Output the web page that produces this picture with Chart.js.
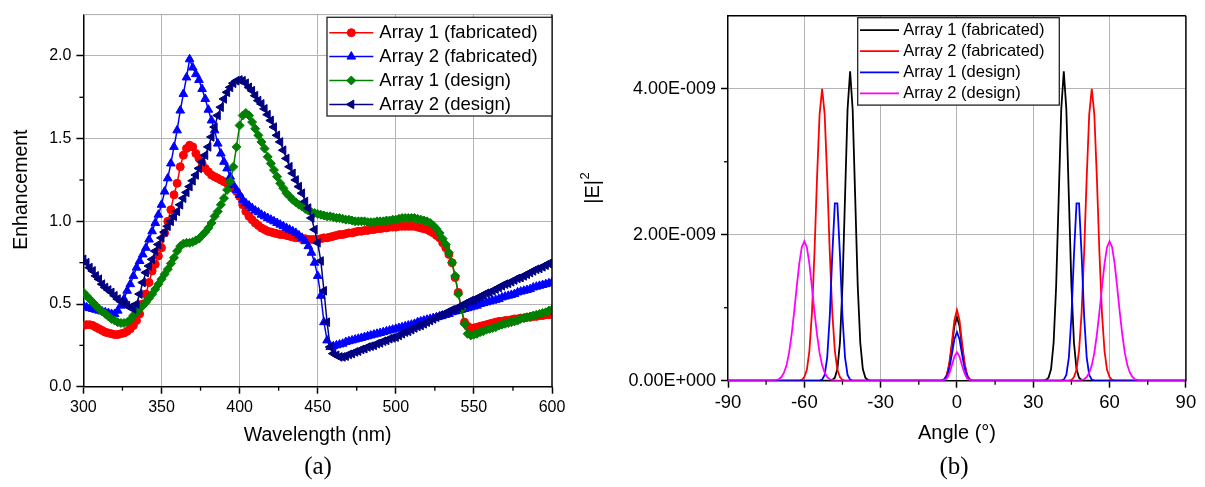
<!DOCTYPE html>
<html><head><meta charset="utf-8">
<script src="https://cdn.jsdelivr.net/npm/chart.js@4.4.1/dist/chart.umd.min.js"></script>
<style>
html,body{margin:0;padding:0;background:#fff;}
body{width:1205px;height:487px;position:relative;overflow:hidden;}
#left{position:absolute;left:0;top:0;}
#right{position:absolute;left:575px;top:0;}
.cap{position:absolute;font-family:'Liberation Serif','Times New Roman',serif;font-size:25px;line-height:25px;transform:translate(-50%,-50%);color:#000;white-space:nowrap;}
</style></head>
<body>
<canvas id="left" width="575" height="460"></canvas>
<canvas id="right" width="630" height="460"></canvas>
<div class="cap" style="left:318px;top:465px">(a)</div>
<div class="cap" style="left:954px;top:465px">(b)</div>
<script>
// ---------- (a) Enhancement vs wavelength ----------
const seriesNames = ['Array 1 (fabricated)', 'Array 2 (fabricated)', 'Array 1 (design)', 'Array 2 (design)'];

const wavelength = [
 300,302,304,306,308,310,312,314,316,318,
 320,322,324,326,328,330,332,334,336,338,
 340,342,344,346,348,350,352,354,356,358,
 360,362,364,366,368,370,372,374,376,378,
 380,382,384,386,388,390,392,394,396,398,
 400,402,404,406,408,410,412,414,416,418,
 420,422,424,426,428,430,432,434,436,438,
 440,442,444,446,448,450,452,454,456,458,
 460,462,464,466,468,470,472,474,476,478,
 480,482,484,486,488,490,492,494,496,498,
 500,502,504,506,508,510,512,514,516,518,
 520,522,524,526,528,530,532,534,536,538,
 540,542,544,546,548,550,552,554,556,558,
 560,562,564,566,568,570,572,574,576,578,
 580,582,584,586,588,590,592,594,596,598,
 600];

const enhArray1Fab = [
 0.37,0.375,0.375,0.37,0.36,0.35,0.34,0.33,0.325,0.32,
 0.315,0.315,0.32,0.325,0.335,0.35,0.37,0.40,0.44,0.50,
 0.56,0.63,0.70,0.74,0.79,0.84,0.93,1.00,1.07,1.16,
 1.23,1.33,1.40,1.44,1.46,1.45,1.41,1.38,1.35,1.32,
 1.30,1.28,1.27,1.26,1.25,1.24,1.23,1.22,1.20,1.18,
 1.15,1.10,1.06,1.03,1.01,0.99,0.975,0.96,0.95,0.94,
 0.935,0.93,0.925,0.92,0.92,0.915,0.91,0.905,0.90,0.90,
 0.895,0.895,0.89,0.89,0.89,0.89,0.895,0.90,0.90,0.905,
 0.91,0.915,0.92,0.92,0.925,0.93,0.93,0.935,0.94,0.94,
 0.945,0.945,0.95,0.95,0.955,0.955,0.96,0.96,0.965,0.965,
 0.965,0.97,0.97,0.97,0.97,0.97,0.97,0.965,0.96,0.955,
 0.95,0.94,0.93,0.915,0.90,0.87,0.84,0.80,0.75,0.66,
 0.57,0.47,0.39,0.365,0.355,0.355,0.36,0.365,0.37,0.375,
 0.38,0.385,0.39,0.395,0.395,0.40,0.40,0.405,0.41,0.41,
 0.415,0.415,0.42,0.42,0.425,0.425,0.43,0.43,0.435,0.435,
 0.44];

const enhArray2Fab = [
 0.49,0.48,0.475,0.47,0.465,0.46,0.455,0.45,0.445,0.44,
 0.44,0.46,0.49,0.53,0.58,0.62,0.67,0.72,0.76,0.80,
 0.84,0.89,0.94,0.99,1.04,1.10,1.18,1.26,1.35,1.45,
 1.55,1.67,1.77,1.87,1.98,1.93,1.89,1.855,1.80,1.74,
 1.675,1.61,1.55,1.47,1.41,1.36,1.32,1.27,1.22,1.19,
 1.16,1.13,1.11,1.095,1.08,1.065,1.055,1.04,1.03,1.02,
 1.01,1.0,0.99,0.98,0.97,0.96,0.95,0.94,0.93,0.915,
 0.90,0.88,0.85,0.81,0.75,0.67,0.55,0.39,0.28,0.24,
 0.245,0.25,0.255,0.26,0.27,0.275,0.28,0.285,0.29,0.295,
 0.30,0.305,0.31,0.315,0.32,0.325,0.33,0.335,0.34,0.345,
 0.35,0.355,0.36,0.365,0.37,0.375,0.38,0.39,0.395,0.40,
 0.405,0.41,0.415,0.42,0.425,0.43,0.435,0.44,0.45,0.455,
 0.46,0.465,0.47,0.475,0.48,0.485,0.49,0.50,0.505,0.51,
 0.515,0.52,0.525,0.53,0.54,0.545,0.55,0.555,0.56,0.57,
 0.575,0.58,0.585,0.59,0.60,0.605,0.61,0.615,0.62,0.625,
 0.63];

const enhArray1Design = [
 0.57,0.55,0.53,0.51,0.49,0.47,0.455,0.44,0.425,0.41,
 0.40,0.39,0.385,0.385,0.39,0.405,0.43,0.45,0.47,0.49,
 0.51,0.535,0.56,0.59,0.62,0.65,0.68,0.71,0.745,0.78,
 0.82,0.85,0.865,0.87,0.87,0.875,0.885,0.895,0.915,0.935,
 0.96,0.99,1.03,1.06,1.10,1.14,1.19,1.24,1.33,1.45,
 1.58,1.64,1.655,1.64,1.60,1.56,1.52,1.48,1.44,1.39,
 1.35,1.31,1.27,1.23,1.20,1.17,1.15,1.13,1.115,1.10,
 1.09,1.075,1.065,1.055,1.05,1.045,1.04,1.035,1.03,1.03,
 1.025,1.02,1.02,1.015,1.01,1.01,1.005,1.0,1.0,1.0,
 1.0,0.995,0.995,0.995,1.0,1.0,1.0,1.005,1.005,1.01,
 1.01,1.015,1.02,1.02,1.02,1.02,1.02,1.015,1.01,1.005,
 1.0,0.99,0.975,0.955,0.93,0.895,0.86,0.81,0.75,0.67,
 0.56,0.47,0.38,0.32,0.31,0.315,0.32,0.33,0.335,0.345,
 0.35,0.355,0.36,0.37,0.375,0.38,0.385,0.39,0.395,0.40,
 0.41,0.415,0.42,0.425,0.43,0.435,0.44,0.445,0.45,0.46,
 0.465];

const enhArray2Design = [
 0.77,0.75,0.72,0.70,0.67,0.65,0.62,0.60,0.585,0.57,
 0.55,0.53,0.515,0.505,0.49,0.48,0.47,0.50,0.56,0.63,
 0.69,0.73,0.77,0.82,0.86,0.90,0.935,0.97,1.0,1.03,
 1.06,1.10,1.14,1.175,1.21,1.245,1.28,1.32,1.36,1.40,
 1.45,1.51,1.57,1.64,1.69,1.74,1.78,1.81,1.835,1.85,
 1.855,1.85,1.835,1.81,1.79,1.76,1.73,1.71,1.68,1.645,
 1.61,1.57,1.52,1.48,1.43,1.38,1.33,1.29,1.25,1.21,
 1.17,1.12,1.08,1.02,0.95,0.87,0.76,0.58,0.39,0.24,
 0.20,0.19,0.18,0.18,0.185,0.195,0.20,0.21,0.215,0.225,
 0.23,0.24,0.245,0.25,0.26,0.265,0.275,0.28,0.29,0.295,
 0.30,0.31,0.32,0.33,0.335,0.345,0.355,0.365,0.37,0.38,
 0.39,0.40,0.41,0.42,0.43,0.435,0.445,0.455,0.465,0.47,
 0.48,0.49,0.50,0.51,0.52,0.525,0.535,0.545,0.555,0.565,
 0.57,0.58,0.59,0.60,0.61,0.62,0.625,0.635,0.645,0.655,
 0.66,0.67,0.68,0.69,0.70,0.71,0.715,0.725,0.735,0.745,
 0.75];

const wlTicks = [300, 350, 400, 450, 500, 550, 600];
const wlMinorTicks = [325, 375, 425, 475, 525, 575];
const enhTicks = [0, 0.5, 1.0, 1.5, 2.0];
const enhMinorTicks = [0.25, 0.75, 1.25, 1.75];

// ---------- (b) |E|^2 vs angle (values in units of 1E-009) ----------
const blackAngle = [-90,
 -50,-49,-48,-47,-46,-45,-44,-43,-42,-41,-40,-39,-38,-37,-36,-35,-34,
 -6,-5,-4,-3,-2,-1,0,1,2,3,4,5,6,
 34,35,36,37,38,39,40,41,42,43,44,45,46,47,48,49,50,
 90];
const blackE = [0,
 0,0.01,0.04,0.16,0.52,1.30,2.51,3.72,4.24,3.72,2.51,1.30,0.52,0.16,0.04,0.01,0,
 0,0.02,0.07,0.22,0.47,0.75,0.87,0.75,0.47,0.22,0.07,0.02,0,
 0,0.01,0.04,0.16,0.52,1.30,2.51,3.72,4.24,3.72,2.51,1.30,0.52,0.16,0.04,0.01,0,
 0];

const redAngle = [-90,
 -62,-61,-60,-59,-58,-57,-56,-55,-54,-53,-52,-51,-50,-49,-48,-47,-46,-45,-44,
 -6,-5,-4,-3,-2,-1,0,1,2,3,4,5,6,
 44,45,46,47,48,49,50,51,52,53,54,55,56,57,58,59,60,61,62,
 90];
const redE = [0,
 0,0.01,0.05,0.15,0.41,0.93,1.76,2.78,3.65,4.0,3.65,2.78,1.76,0.93,0.41,0.15,0.05,0.01,0,
 0,0.02,0.08,0.24,0.52,0.83,0.97,0.83,0.52,0.24,0.08,0.02,0,
 0,0.01,0.05,0.15,0.41,0.93,1.76,2.78,3.65,4.0,3.65,2.78,1.76,0.93,0.41,0.15,0.05,0.01,0,
 0];

const blueAngle = [-90,
 -54,-53,-52,-51,-50,-49,-48,-47,-46,-45,-44,-43,-42,-41,
 -6,-5,-4,-3,-2,-1,0,1,2,3,4,5,6,
 41,42,43,44,45,46,47,48,49,50,51,52,53,54,
 90];
const blueE = [0,
 0,0.015,0.08,0.32,0.88,1.73,2.43,2.43,1.73,0.88,0.32,0.08,0.015,0,
 0,0.01,0.06,0.17,0.36,0.57,0.665,0.57,0.36,0.17,0.06,0.01,0,
 0,0.015,0.08,0.32,0.88,1.73,2.43,2.43,1.73,0.88,0.32,0.08,0.015,0,
 0];

const magentaAngle = [-90,
 -73,-72,-71,-70,-69,-68,-67,-66,-65,-64,-63,-62,-61,-60,-59,-58,-57,-56,-55,-54,-53,-52,-51,-50,-49,-48,-47,
 -6,-5,-4,-3,-2,-1,0,1,2,3,4,5,6,
 47,48,49,50,51,52,53,54,55,56,57,58,59,60,61,62,63,64,65,66,67,68,69,70,71,72,73,
 90];
const magentaE = [0,
 0,0.005,0.01,0.02,0.05,0.11,0.21,0.38,0.63,0.94,1.28,1.60,1.83,1.91,1.83,1.60,1.28,0.94,0.63,0.38,0.21,0.11,0.05,0.02,0.01,0.005,0,
 0,0.01,0.03,0.10,0.21,0.33,0.39,0.33,0.21,0.10,0.03,0.01,0,
 0,0.005,0.01,0.02,0.05,0.11,0.21,0.38,0.63,0.94,1.28,1.60,1.83,1.91,1.83,1.60,1.28,0.94,0.63,0.38,0.21,0.11,0.05,0.02,0.01,0.005,0,
 0];

const angleTicks = [-90, -60, -30, 0, 30, 60, 90];
const angleMinorTicks = [-75, -45, -15, 15, 45, 75];
const intensityTicks = [0, 2, 4];
const intensityTickLabels = ['0.00E+000', '2.00E-009', '4.00E-009'];
const intensityMinorTicks = [1, 3];

// ---------- helpers ----------
const SANS = "'Liberation Sans', Arial, sans-serif";
const GRID = '#b4b4b4';
const NONE = 'rgba(0,0,0,0)';
function pts(xs, ys) { return xs.map((x, i) => ({x: x, y: ys[i]})); }
function fixedTicks(list) { return function (scale) { scale.ticks = list.map(v => ({value: v})); }; }

function markerPath(ctx, style, r, rot, x, y) {
  ctx.save();
  ctx.translate(x, y);
  ctx.rotate(rot * Math.PI / 180);
  ctx.beginPath();
  if (style === 'circle') {
    ctx.arc(0, 0, r, 0, Math.PI * 2);
  } else if (style === 'triangle') {
    ctx.moveTo(0, -r);
    ctx.lineTo(r * Math.sin(2 * Math.PI / 3), -r * Math.cos(2 * Math.PI / 3));
    ctx.lineTo(r * Math.sin(4 * Math.PI / 3), -r * Math.cos(4 * Math.PI / 3));
    ctx.closePath();
  } else if (style === 'rectRot') {
    ctx.moveTo(0, -r); ctx.lineTo(r, 0); ctx.lineTo(0, r); ctx.lineTo(-r, 0); ctx.closePath();
  }
  ctx.fill();
  ctx.stroke();
  ctx.restore();
}

const framePlugin = {
  id: 'frame',
  afterDatasetsDraw(chart, args, o) {
    const {ctx, chartArea: a} = chart;
    ctx.save();
    ctx.lineWidth = o.topWidth;
    ctx.strokeStyle = o.topColor;
    ctx.beginPath(); ctx.moveTo(a.left, a.top); ctx.lineTo(a.right, a.top); ctx.stroke();
    ctx.lineWidth = 1.5;
    ctx.strokeStyle = '#000';
    ctx.beginPath(); ctx.moveTo(a.right, a.top); ctx.lineTo(a.right, a.bottom + 0.75); ctx.stroke();
    ctx.restore();
  }
};

const minorPlugin = {
  id: 'minor',
  afterDraw(chart, args, o) {
    const {ctx, chartArea: a, scales} = chart;
    ctx.save();
    ctx.strokeStyle = '#000';
    ctx.lineWidth = 1.3;
    o.x.forEach(v => {
      const px = scales.x.getPixelForValue(v);
      ctx.beginPath(); ctx.moveTo(px, a.bottom); ctx.lineTo(px, a.bottom + o.len); ctx.stroke();
    });
    o.y.forEach(v => {
      const py = scales.y.getPixelForValue(v);
      ctx.beginPath(); ctx.moveTo(a.left, py); ctx.lineTo(a.left - o.len, py); ctx.stroke();
    });
    ctx.restore();
  }
};

const yTitlePlugin = {
  id: 'yTitle',
  afterDraw(chart, args, o) {
    const {ctx, chartArea: a} = chart;
    const cy = (a.top + a.bottom) / 2 + o.shift;
    ctx.save();
    ctx.translate(o.x, cy);
    ctx.rotate(-Math.PI / 2);
    ctx.fillStyle = '#000';
    ctx.textBaseline = 'middle';
    ctx.textAlign = 'left';
    ctx.font = o.size + 'px ' + SANS;
    const w1 = ctx.measureText(o.text).width;
    let w2 = 0;
    if (o.sup) { ctx.font = o.supSize + 'px ' + SANS; w2 = ctx.measureText(o.sup).width; }
    const start = -(w1 + w2) / 2;
    ctx.font = o.size + 'px ' + SANS;
    ctx.fillText(o.text, start, 0);
    if (o.sup) {
      ctx.font = o.supSize + 'px ' + SANS;
      ctx.fillText(o.sup, start + w1 + 0.5, -o.size * 0.36);
    }
    ctx.restore();
  }
};

const boxLegendPlugin = {
  id: 'boxLegend',
  afterDatasetsDraw(chart, args, o) {
    const {ctx, chartArea: a} = chart;
    const x0 = a.right - o.right - o.width;
    const y0 = a.top + o.top;
    ctx.save();
    ctx.fillStyle = '#fff';
    ctx.fillRect(x0, y0, o.width, o.height);
    ctx.strokeStyle = '#222';
    ctx.lineWidth = 1.3;
    ctx.strokeRect(x0, y0, o.width, o.height);
    ctx.font = o.size + 'px ' + SANS;
    ctx.textBaseline = 'middle';
    ctx.textAlign = 'left';
    chart.data.datasets.forEach((ds, i) => {
      const cy = y0 + o.firstRow + i * o.rowGap;
      ctx.strokeStyle = ds.borderColor;
      ctx.lineWidth = ds.borderWidth;
      ctx.beginPath(); ctx.moveTo(x0 + o.lineStart, cy); ctx.lineTo(x0 + o.lineEnd, cy); ctx.stroke();
      if (ds.pointRadius > 0) {
        ctx.fillStyle = ds.pointBackgroundColor;
        ctx.strokeStyle = ds.pointBorderColor;
        ctx.lineWidth = ds.pointBorderWidth;
        markerPath(ctx, ds.pointStyle, ds.pointRadius, ds.pointRotation || 0, x0 + (o.lineStart + o.lineEnd) / 2, cy);
      }
      ctx.fillStyle = '#000';
      ctx.fillText(ds.label, x0 + o.textX, cy + 0.5);
    });
    ctx.restore();
  }
};

function markerSeries(label, xs, ys, color, style, radius, rotation, order) {
  return {
    label: label, data: pts(xs, ys), order: order,
    borderColor: color, backgroundColor: color, borderWidth: 1.5, tension: 0,
    pointStyle: style, pointRadius: radius, pointRotation: rotation,
    pointBackgroundColor: color, pointBorderColor: color, pointBorderWidth: 1,
    pointHoverRadius: radius
  };
}
function lineSeries(label, xs, ys, color, order) {
  return {
    label: label, data: pts(xs, ys), order: order,
    borderColor: color, backgroundColor: color, borderWidth: 1.8, tension: 0,
    pointRadius: 0, pointHoverRadius: 0
  };
}

Chart.defaults.font.family = SANS;
Chart.defaults.color = '#000';

// ---------- chart (a) ----------
new Chart(document.getElementById('left'), {
  type: 'line',
  data: {datasets: [
    markerSeries(seriesNames[0], wavelength, enhArray1Fab, '#ff0000', 'circle', 4, 0, 3),
    markerSeries(seriesNames[1], wavelength, enhArray2Fab, '#0000ff', 'triangle', 5, 0, 2),
    markerSeries(seriesNames[2], wavelength, enhArray1Design, '#008000', 'rectRot', 4.5, 0, 1),
    markerSeries(seriesNames[3], wavelength, enhArray2Design, '#000080', 'triangle', 5, -90, 0)
  ]},
  options: {
    responsive: false, animation: false, devicePixelRatio: 1, events: [],
    layout: {autoPadding: false, padding: {left: 0, right: 23, top: 9.6, bottom: 0}},
    plugins: {
      legend: {display: false}, tooltip: {enabled: false},
      frame: {topColor: '#a8a8a8', topWidth: 1},
      minor: {x: wlMinorTicks, y: enhMinorTicks, len: 4},
      yTitle: {text: 'Enhancement', size: 19.5, x: 22, shift: -11},
      boxLegend: {right: 0, width: 225, top: 2.7, height: 98.7, firstRow: 15.4, rowGap: 23.9,
                  lineStart: 2.3, lineEnd: 46.3, textX: 52.3, size: 18.5}
    },
    scales: {
      x: {
        type: 'linear', min: 300, max: 600,
        afterBuildTicks: fixedTicks(wlTicks),
        afterFit: s => { s.height = 73.3; },
        ticks: {font: {size: 16}, color: '#000', padding: 4.2, maxRotation: 0, autoSkip: false},
        grid: {color: c => (c.tick && (c.tick.value === 300 || c.tick.value === 600)) ? NONE : GRID,
               lineWidth: 1, tickLength: 7, tickColor: '#000', tickWidth: 1.5},
        border: {color: '#000', width: 1.5},
        title: {display: true, text: 'Wavelength (nm)', font: {size: 19.5}, color: '#000', padding: {top: 0, bottom: 12.8}}
      },
      y: {
        type: 'linear', min: 0, max: 2.25,
        afterBuildTicks: fixedTicks(enhTicks),
        afterFit: s => { s.width = 83.4; },
        ticks: {font: {size: 16}, color: '#000', padding: 5, callback: v => Number(v).toFixed(1)},
        grid: {color: c => (c.tick && c.tick.value === 0) ? NONE : GRID,
               lineWidth: 1, tickLength: 7, tickColor: '#000', tickWidth: 1.5},
        border: {color: '#000', width: 1.5}
      }
    }
  },
  plugins: [framePlugin, boxLegendPlugin, minorPlugin, yTitlePlugin]
});

// ---------- chart (b) ----------
new Chart(document.getElementById('right'), {
  type: 'line',
  data: {datasets: [
    lineSeries(seriesNames[0], blackAngle, blackE, '#000000', 3),
    lineSeries(seriesNames[1], redAngle, redE, '#ff0000', 2),
    lineSeries(seriesNames[2], blueAngle, blueE, '#0000ff', 1),
    lineSeries(seriesNames[3], magentaAngle, magentaE, '#ff00ff', 0)
  ]},
  options: {
    responsive: false, animation: false, devicePixelRatio: 1, events: [],
    layout: {autoPadding: false, padding: {left: 0, right: 19.1, top: 12.4, bottom: 0}},
    plugins: {
      legend: {display: false}, tooltip: {enabled: false},
      frame: {topColor: '#000', topWidth: 1.5},
      minor: {x: angleMinorTicks, y: intensityMinorTicks, len: 4},
      yTitle: {text: '|E|', sup: '2', size: 20, supSize: 13, x: 18, shift: -10},
      boxLegend: {right: 126.6, width: 201.6, top: 1.9, height: 87.4, firstRow: 12.4, rowGap: 21.1,
                  lineStart: 2.3, lineEnd: 41.3, textX: 45.6, size: 16.5}
    },
    scales: {
      x: {
        type: 'linear', min: -90, max: 90,
        afterBuildTicks: fixedTicks(angleTicks),
        afterFit: s => { s.height = 79.3; },
        ticks: {font: {size: 18.5}, color: '#000', padding: 4, maxRotation: 0, autoSkip: false},
        grid: {color: c => (c.tick && (c.tick.value === -90 || c.tick.value === 90)) ? NONE : GRID,
               lineWidth: 1, tickLength: 7, tickColor: '#000', tickWidth: 1.5},
        border: {color: '#000', width: 1.5},
        title: {display: true, text: 'Angle (°)', font: {size: 20}, color: '#000', padding: {top: 0, bottom: 14.3}}
      },
      y: {
        type: 'linear', min: 0, max: 5,
        afterBuildTicks: fixedTicks(intensityTicks),
        afterFit: s => { s.width = 153; },
        ticks: {font: {size: 18}, color: '#000', padding: 5,
                callback: v => intensityTickLabels[intensityTicks.indexOf(v)]},
        grid: {color: c => (c.tick && c.tick.value === 0) ? NONE : GRID,
               lineWidth: 1, tickLength: 7, tickColor: '#000', tickWidth: 1.5},
        border: {color: '#000', width: 1.5}
      }
    }
  },
  plugins: [framePlugin, boxLegendPlugin, minorPlugin, yTitlePlugin]
});
</script>
</body></html>
